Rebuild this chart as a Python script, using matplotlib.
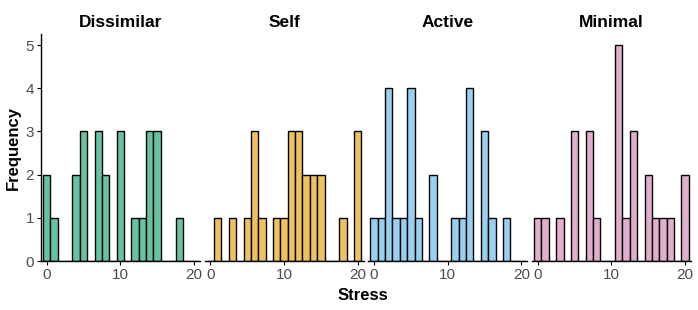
import matplotlib
matplotlib.use("Agg")
import matplotlib.pyplot as plt
import numpy as np

plt.rcParams['font.family'] = ['Liberation Sans', 'DejaVu Sans']

stress = np.arange(0, 21)
conditions = ['Dissimilar', 'Self', 'Active', 'Minimal']
colors = ['#66C2A5', '#EEC35E', '#98D1F0', '#E0AFCB']

# frequency of each stress score 0..20
dissimilar = [2, 1, 0, 0, 2, 3, 0, 3, 2, 0, 3, 0, 1, 1, 3, 3, 0, 0, 1, 0, 0]
self_ = [0, 1, 0, 1, 0, 1, 3, 1, 0, 1, 1, 3, 3, 2, 2, 2, 0, 0, 1, 0, 3]
active = [1, 1, 4, 1, 1, 4, 1, 0, 2, 0, 0, 1, 1, 4, 0, 3, 1, 0, 1, 0, 0]
minimal = [1, 1, 0, 1, 0, 3, 0, 3, 1, 0, 0, 5, 1, 3, 0, 2, 1, 1, 1, 0, 2]
freqs = [dissimilar, self_, active, minimal]

fig = plt.figure(figsize=(6.98, 3.10), dpi=100)

left0 = 0.0585
width = 0.2278
gap = 0.0067
bottom = 0.158
height = 0.7316
grey = '#4D4D4D'

for i, (name, col, f) in enumerate(zip(conditions, colors, freqs)):
    ax = fig.add_axes([left0 + i * (width + gap), bottom, width, height])
    ax.bar(stress, f, width=1, color=col, edgecolor='black', linewidth=1.0)
    ax.set_xlim(-0.8, 20.8)
    ax.set_ylim(0, 5.25)
    ax.set_xticks([0, 10, 20])
    ax.set_yticks(range(6))
    for s in ['top', 'right']:
        ax.spines[s].set_visible(False)
    ax.spines['bottom'].set_linewidth(1.0)
    ax.spines['left'].set_linewidth(1.0)
    ax.tick_params(axis='both', colors='black', labelcolor=grey,
                   labelsize=11, length=3, width=0.8, pad=2)
    ax.set_title(name, fontsize=12.5, fontweight='bold', pad=5)
    if i == 0:
        ax.set_ylabel('Frequency', fontsize=12, fontweight='bold', labelpad=3)
    else:
        ax.spines['left'].set_visible(False)
        ax.tick_params(axis='y', left=False, labelleft=False)

fig.text(0.52, 0.022, 'Stress', ha='center', va='bottom',
         fontsize=12, fontweight='bold')

fig.savefig('out.png', dpi=100)
